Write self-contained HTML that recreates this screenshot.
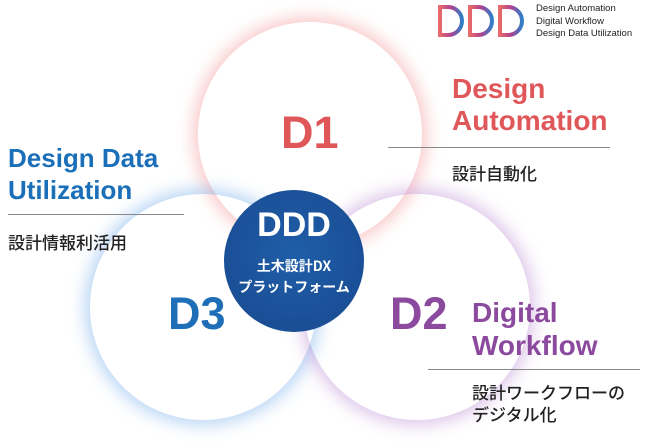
<!DOCTYPE html>
<html><head><meta charset="utf-8"><style>
body{margin:0;width:650px;height:443px;background:#fff;position:relative;overflow:hidden;font-family:"Liberation Sans","Noto Sans CJK JP",sans-serif}
.c{position:absolute;border-radius:50%;background:transparent}
.t{position:absolute;white-space:nowrap;font-weight:bold}
.j{position:absolute;white-space:nowrap;font-family:"Noto Sans CJK JP",sans-serif;font-size:17px;color:#222;font-weight:500;line-height:22px}
.hr{position:absolute;height:1px;background:#888}
</style></head><body>
<div class="c" style="left:198px;top:22px;width:224px;height:224px;box-shadow:0 0 16px 5px rgba(240,120,120,.4)"></div>
<div class="c" style="left:90px;top:194px;width:226px;height:226px;box-shadow:0 0 16px 5px rgba(80,150,230,.4)"></div>
<div class="c" style="left:304px;top:194px;width:226px;height:226px;box-shadow:0 0 16px 5px rgba(170,110,200,.4)"></div>
<div class="c" style="left:224px;top:190px;width:140px;height:142px;background:radial-gradient(circle at 50% 45%,#1f5ea8,#1a4f96 70%,#174a8e);"></div>
<div class="t" style="left:224px;top:206px;width:140px;text-align:center;color:#fff;font-size:34px">DDD</div>
<div class="j" style="left:224px;top:256px;width:140px;text-align:center;color:#fff;font-size:14px;line-height:21px;font-weight:bold">土木設計DX<br>プラットフォーム</div>
<div class="t" style="left:281px;top:107px;color:#e0575a;font-size:45px">D1</div>
<div class="t" style="left:168px;top:288px;color:#1e6fb8;font-size:45px">D3</div>
<div class="t" style="left:390px;top:288px;color:#8b4a9e;font-size:45px">D2</div>
<div class="t" style="left:452px;top:73px;color:#e0575a;font-size:28px;line-height:32px">Design<br>Automation</div>
<div class="hr" style="left:388px;top:147px;width:222px"></div>
<div class="j" style="left:452px;top:162px">設計自動化</div>
<div class="t" style="left:8px;top:142px;color:#1a6fb8;font-size:26px;line-height:32px">Design Data<br>Utilization</div>
<div class="hr" style="left:8px;top:214px;width:176px"></div>
<div class="j" style="left:8px;top:231px">設計情報利活用</div>
<div class="t" style="left:472px;top:296px;color:#8b4a9e;font-size:28px;line-height:33px">Digital<br>Workflow</div>
<div class="hr" style="left:428px;top:369px;width:212px"></div>
<div class="j" style="left:472px;top:381px">設計ワークフローの<br>デジタル化</div>
<svg style="position:absolute;left:436px;top:4px" width="95" height="34">
<defs><linearGradient id="g" x1="0" x2="1"><stop offset="0" stop-color="#e86a6a"/><stop offset=".5" stop-color="#b0408f"/><stop offset="1" stop-color="#2f7fc8"/></linearGradient></defs>
<g fill="none" stroke="url(#g)" stroke-width="4">
<path d="M4 3v28h8a14 14 0 0 0 0-28z"/><path d="M34 3v28h8a14 14 0 0 0 0-28z"/><path d="M64 3v28h8a14 14 0 0 0 0-28z"/></g></svg>
<div style="position:absolute;left:536px;top:3px;font-size:9.5px;line-height:12.5px;color:#222;white-space:nowrap">Design Automation<br>Digital Workflow<br>Design Data Utilization</div>
</body></html>
